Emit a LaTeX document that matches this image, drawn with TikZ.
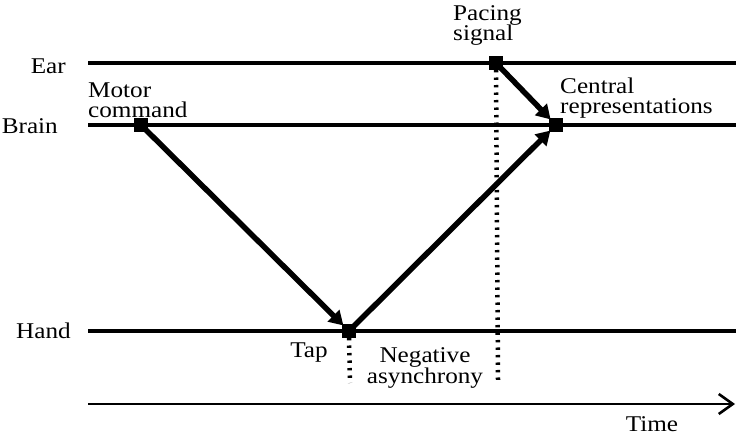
\documentclass[tikz,border=0pt]{standalone}
\usepackage{fontspec}
\setmainfont{Liberation Serif}[FakeStretch=1.12]
\usetikzlibrary{arrows.meta}
\begin{document}
\begin{tikzpicture}[x=1pt,y=-1pt,
  sq/.style={fill=black,minimum size=14pt,inner sep=0pt,outer sep=0pt},
  track/.style={line width=3.4pt},
  flow/.style={line width=5.5pt,-{Triangle[length=14pt,width=16pt]},shorten >=-2pt},
  dotline/.style={line width=4.5pt,dash pattern=on 2.4pt off 5.1pt},
  lbl/.style={font=\fontsize{22.5}{20.5}\selectfont,inner sep=0pt,align=left}]
\useasboundingbox (0,0) rectangle (736,436);
% tracks
\coordinate (earL) at (88,63);  \coordinate (earR) at (736,63);
\coordinate (brL) at (88,125);  \coordinate (brR) at (736,125);
\coordinate (haL) at (88,331);  \coordinate (haR) at (736,331);
\coordinate (tL) at (88,404);   \coordinate (tR) at (735,404);
\draw[track] (earL) -- (earR);
\draw[track] (brL) -- (brR);
\draw[track] (haL) -- (haR);
\draw[line width=2.6pt,-{Straight Barb[length=14pt,width=20pt,line width=2.6pt]}] (tL) -- (tR);
% events
\node[sq] (mc) at (141,125) {};
\node[sq] (ps) at (496,63) {};
\node[sq] (cr) at (556,125) {};
\node[sq] (tap) at (349,331) {};
\coordinate (tapEnd) at (350,383);
\coordinate (psEnd) at (498,380);
\draw[dotline] (tap.south) -- (tapEnd);
\draw[dotline] (ps.south) -- (psEnd);
\draw[flow] (mc.center) -- (tap);
\draw[flow] (tap.center) -- (cr);
\draw[flow] (ps.center) -- (cr);
% labels
\node[lbl,anchor=east] (lEar) at (66,66) {Ear};
\node[lbl,anchor=east] (lBrain) at (58,126) {Brain};
\node[lbl,anchor=east] (lHand) at (71,331) {Hand};
\node[lbl,anchor=south west] (lMc) at (88,118) {Motor\\command};
\node[lbl,anchor=north west] (lPs) at (453,5) {Pacing\\signal};
\node[lbl,anchor=west] (lCr) at (560,98) {Central\\representations};
\node[lbl] (lTap) at (309,353) {Tap};
\node[lbl,align=center] (lNa) at (425,368) {Negative\\asynchrony};
\node[lbl] (lTime) at (652,424) {Time};
\end{tikzpicture}
\end{document}
